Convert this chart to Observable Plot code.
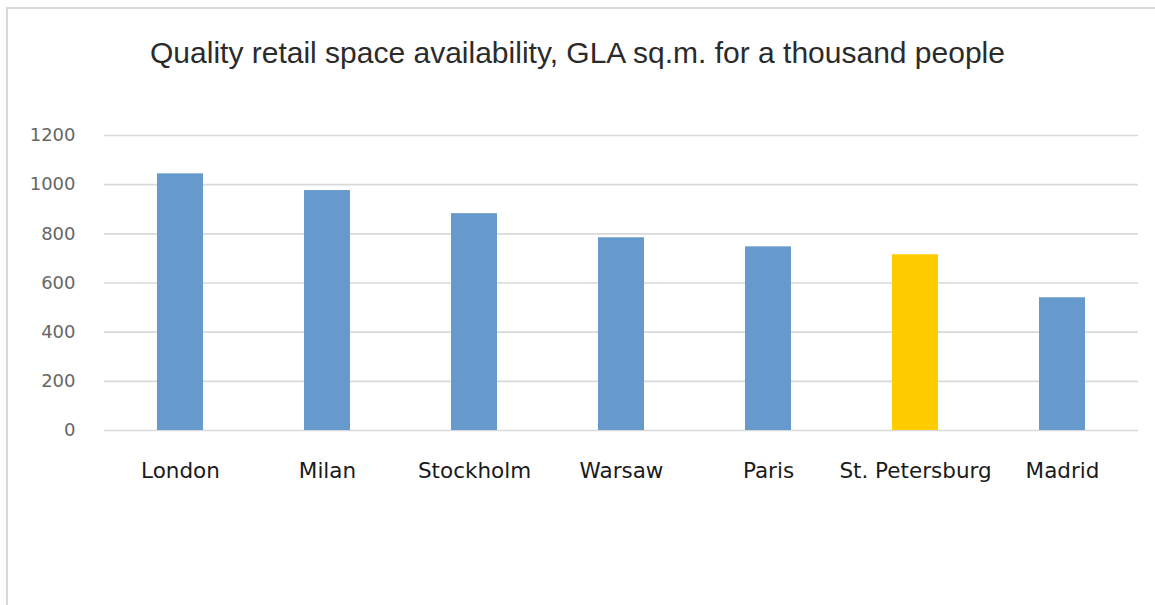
<!DOCTYPE html>
<html>
<head>
<meta charset="utf-8">
<script src="https://cdn.jsdelivr.net/npm/d3@7"></script>
<script src="https://cdn.jsdelivr.net/npm/@observablehq/plot@0.6"></script>
<style>
  html, body { margin: 0; padding: 0; background: #fff; }
  #wrap { position: relative; width: 1155px; height: 605px; overflow: hidden; font-family: "Liberation Sans", Arial, sans-serif; }
  #frame { position: absolute; left: 6px; top: 7px; width: 1200px; height: 700px; border: 2px solid #d9d9d9; box-sizing: border-box; }
  #title { position: absolute; left: 0px; top: 36px; width: 1155px; text-align: center; font-size: 30px; color: #2b2b2b; white-space: nowrap; }
  #chart { position: absolute; left: 0; top: 0; }
</style>
</head>
<body>
<div id="wrap">
  <div id="frame"></div>
  <div id="title">Quality retail space availability, GLA sq.m. for a thousand people</div>
  <div id="chart"></div>
</div>
<script>
const cities = ["London", "Milan", "Stockholm", "Warsaw", "Paris", "St. Petersburg", "Madrid"];
const values = [1044, 976, 882, 784, 747, 715, 540];
const yTicks = [0, 200, 400, 600, 800, 1000, 1200];
const highlight = "St. Petersburg";

const data = cities.map((c, i) => ({city: c, value: values[i]}));

const chart = Plot.plot({
  width: 1155,
  height: 605,
  marginLeft: 104,
  marginRight: 17,
  marginTop: 135,
  marginBottom: 175,
  style: {fontFamily: "'DejaVu Sans', sans-serif", background: "transparent"},
  x: {domain: cities, paddingInner: 0.69, paddingOuter: 0.345, label: null},
  y: {domain: [0, 1200], label: null},
  marks: [
    Plot.gridY(yTicks, {stroke: "#d9d9d9", strokeOpacity: 1, strokeWidth: 1.6}),
    Plot.barY(data, {x: "city", y: "value", fill: d => d.city === highlight ? "#ffcc00" : "#6699cc"}),
    Plot.axisY(yTicks, {tickSize: 0, tickPadding: 29, fontSize: 18, fill: "#666", tickFormat: "d", label: null}),
    Plot.axisX({tickSize: 0, tickPadding: 32, fontSize: 21.5, fill: "#1a1a1a", label: null})
  ]
});
document.getElementById("chart").appendChild(chart);
</script>
</body>
</html>
